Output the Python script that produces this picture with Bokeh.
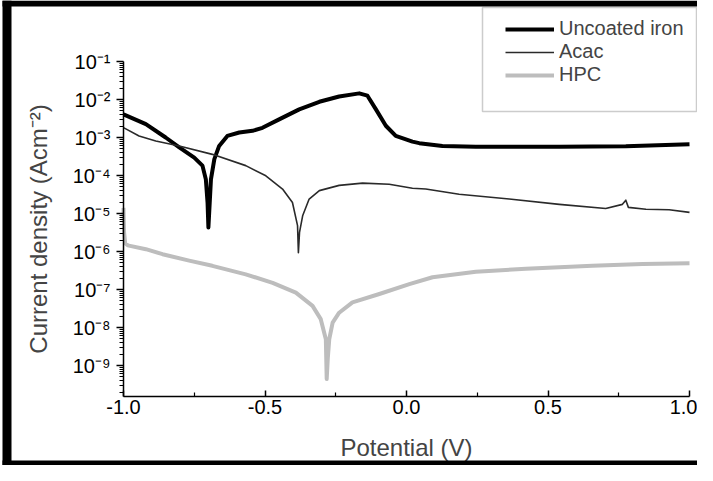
from bokeh.plotting import figure
from bokeh.models import FixedTicker, BoxAnnotation
from bokeh.embed import file_html
from bokeh.resources import INLINE

# ---- data ----
iron_v = [-1.0, -0.921, -0.851, -0.803, -0.750, -0.721, -0.709, -0.703, -0.700,
          -0.691, -0.679, -0.662, -0.633, -0.591, -0.544, -0.509, -0.450, -0.379,
          -0.308, -0.238, -0.167, -0.138, -0.108, -0.073, -0.038, 0.021, 0.045,
          0.127, 0.245, 0.54, 0.775, 1.0]
iron_i = [4.07e-3, 2.24e-3, 1.0e-3, 5.5e-4, 2.95e-4, 1.82e-4, 7.9e-5, 1.95e-5, 4.3e-6,
          7.9e-5, 2.7e-4, 6.0e-4, 1.1e-3, 1.35e-3, 1.5e-3, 1.8e-3, 3.0e-3, 5.5e-3,
          8.7e-3, 1.2e-2, 1.45e-2, 1.26e-2, 5.5e-3, 2.04e-3, 1.1e-3, 7.8e-4, 7.1e-4,
          6.0e-4, 5.75e-4, 5.75e-4, 5.9e-4, 6.6e-4]

acac_v = [-1.0, -0.945, -0.886, -0.803, -0.686, -0.568, -0.497, -0.438, -0.403,
          -0.385, -0.382, -0.378, -0.367, -0.344, -0.308, -0.238, -0.155, -0.061,
          0.021, 0.068, 0.186, 0.363, 0.54, 0.704, 0.763, 0.775, 0.784, 0.846,
          0.928, 1.0]
acac_i = [1.82e-3, 1.1e-3, 8.1e-4, 6.0e-4, 3.6e-4, 1.82e-4, 9.8e-5, 4.4e-5, 1.95e-5,
          4.8e-6, 9.3e-7, 3.2e-6, 8.7e-6, 2.4e-5, 4.0e-5, 5.5e-5, 6.3e-5, 5.9e-5,
          4.6e-5, 4.4e-5, 3.2e-5, 2.4e-5, 1.74e-5, 1.35e-5, 1.74e-5, 2.24e-5, 1.45e-5,
          1.29e-5, 1.26e-5, 1.07e-5]

hpc_v = [-1.0, -0.998, -0.994, -0.985, -0.921, -0.862, -0.768, -0.686, -0.568,
         -0.473, -0.391, -0.332, -0.303, -0.285, -0.282, -0.278, -0.273, -0.261,
         -0.238, -0.191, -0.096, 0.010, 0.092, 0.245, 0.422, 0.657, 0.834, 1.0]
hpc_i = [1.41e-5, 3.2e-6, 1.66e-6, 1.45e-6, 1.15e-6, 8.5e-7, 5.75e-7, 4.2e-7, 2.5e-7,
         1.5e-7, 8.3e-8, 3.7e-8, 1.66e-8, 4.9e-9, 4.4e-10, 1.6e-9, 4.9e-9, 1.35e-8,
         2.45e-8, 4.6e-8, 7.6e-8, 1.38e-7, 2.1e-7, 2.95e-7, 3.5e-7, 4.2e-7, 4.7e-7,
         4.9e-7]

series_names = ["Uncoated iron", "Acac", "HPC"]

x_ticks = [-1.0, -0.5, 0.0, 0.5, 1.0]
x_minor = [-0.75, -0.25, 0.25, 0.75]
y_exponents = [-9, -8, -7, -6, -5, -4, -3, -2, -1]
sup = {"-": "\u207b", "0": "\u2070", "1": "\u00b9", "2": "\u00b2", "3": "\u00b3",
       "4": "\u2074", "5": "\u2075", "6": "\u2076", "7": "\u2077", "8": "\u2078",
       "9": "\u2079"}
y_tick_values = [10.0 ** e for e in y_exponents]
y_tick_labels = ["10" + "".join(sup[c] for c in str(e)) for e in y_exponents]
y_minor = [m * 10.0 ** e for e in range(-10, -1) for m in range(2, 10)]

FONT = "Liberation Sans"

# ---- geometry: the frame fills the whole canvas; axes sit at fixed positions ----
W, H = 697, 465
AX_L, AX_R = 123, 689          # canvas px of V=-1 and V=+1
AX_TOP, AX_BOT = 61, 396       # canvas px of 1e-1 and of the x axis line
PX_PER_DEC = 38.0
x_lo = -1.0 - AX_L * 2.0 / (AX_R - AX_L)
x_hi = 1.0 + (W - AX_R) * 2.0 / (AX_R - AX_L)
top_log = -1.0 + AX_TOP / PX_PER_DEC
bot_log = -1.0 - (H - AX_TOP) / PX_PER_DEC
axis_bottom_value = 10 ** (-1.0 - (AX_BOT - AX_TOP) / PX_PER_DEC)


def cx(px):
    return x_lo + px / W * (x_hi - x_lo)


def cy(py):
    return 10 ** (top_log - py / H * (top_log - bot_log))


p = figure(width=W, height=H, x_range=(x_lo, x_hi), y_range=(10 ** bot_log, 10 ** top_log),
           y_axis_type="log", output_backend="svg", toolbar_location=None,
           min_border=0, min_border_left=0, min_border_right=0, min_border_top=0,
           min_border_bottom=0)
p.title.visible = False
p.background_fill_color = "white"
p.border_fill_color = "white"
p.outline_line_color = None
p.xgrid.visible = False
p.ygrid.visible = False

p.line(iron_v, iron_i, line_color="black", line_width=4, line_join="round",
       legend_label=series_names[0])
p.line(acac_v, acac_i, line_color="#2a2a2a", line_width=1.6, line_join="round",
       legend_label=series_names[1])
p.line(hpc_v, hpc_i, line_color="#bdbdbd", line_width=4, line_join="round",
       legend_label=series_names[2])

# x axis
xa = p.xaxis[0]
xa.fixed_location = axis_bottom_value
xa.bounds = (-1.0, 1.0)
xa.ticker = FixedTicker(ticks=x_ticks, minor_ticks=x_minor)
xa.major_label_overrides = {v: f"{v:.1f}" for v in x_ticks}
xa.major_tick_in = 6
xa.major_tick_out = 0
xa.minor_tick_in = 4
xa.minor_tick_out = 0
xa.axis_line_width = 1.5
xa.major_tick_line_width = 1.5
xa.minor_tick_line_width = 1.2
xa.major_label_standoff = 3
xa.major_label_text_font = FONT
xa.major_label_text_font_size = "20px"
xa.major_label_text_color = "black"
xa.axis_label = "Potential (V)"
xa.axis_label_text_font = FONT
xa.axis_label_text_font_size = "24px"
xa.axis_label_text_font_style = "normal"
xa.axis_label_standoff = 17

# y axis
ya = p.yaxis[0]
ya.fixed_location = -1.0
ya.bounds = (axis_bottom_value, 0.1)
ya.ticker = FixedTicker(ticks=y_tick_values, minor_ticks=y_minor)
ya.major_label_overrides = dict(zip(y_tick_values, y_tick_labels))
ya.major_tick_in = 0
ya.major_tick_out = 7
ya.minor_tick_in = 0
ya.minor_tick_out = 4
ya.axis_line_width = 1.5
ya.major_tick_line_width = 1.5
ya.minor_tick_line_width = 1
ya.major_label_standoff = 6
ya.major_label_text_font = FONT
ya.major_label_text_font_size = "20px"
ya.major_label_text_color = "black"
ya.axis_label = "Current density (Acm\u207b\u00b2)"
ya.axis_label_text_font = FONT
ya.axis_label_text_font_size = "24px"
ya.axis_label_text_font_style = "normal"
ya.axis_label_standoff = 18

# legend
lg = p.legend[0]
lg.location = (495, 369)
lg.label_text_font = FONT
lg.label_text_font_size = "20px"
lg.glyph_width = 49
lg.glyph_height = 20
lg.label_height = 20
lg.spacing = 0
lg.label_standoff = 5
lg.padding = 10
lg.margin = 0
lg.border_line_alpha = 0
lg.background_fill_alpha = 0

# legend frame
p.add_layout(BoxAnnotation(left=cx(482), right=cx(696), top=cy(7), bottom=cy(111),
                           fill_alpha=0, line_color="#555555", line_width=1.5,
                           level="underlay"))
# thick picture frame
for (l, r, t, b) in [(2, W, 0, 6), (2, 11, 0, H), (2, W, 460, H)]:
    p.add_layout(BoxAnnotation(left=cx(l), right=cx(r), top=cy(t), bottom=cy(b),
                               fill_color="black", fill_alpha=1, line_color=None))

open("out.html", "w").write(file_html(p, INLINE))
